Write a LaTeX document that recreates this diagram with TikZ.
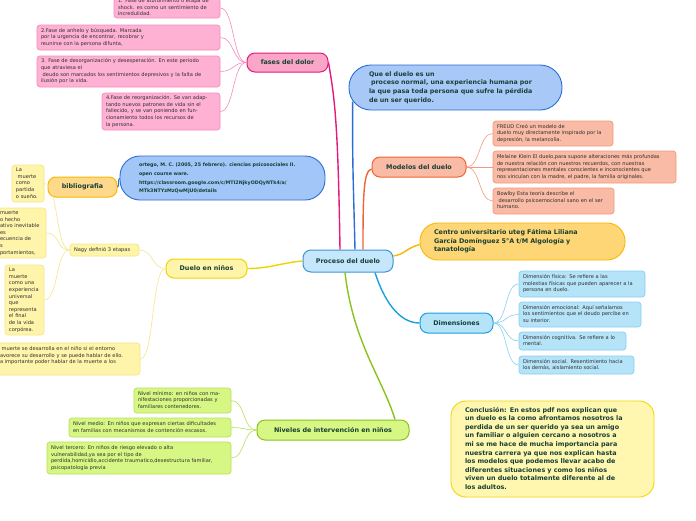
\documentclass[tikz,border=0pt]{standalone}
\usepackage{fontspec}
\setmainfont{DejaVu Sans}
\newcommand\tbl[1]{\begin{tabular}{@{}l@{}}#1\end{tabular}}
\definecolor{txtc}{HTML}{2E2E2E}
\definecolor{maintxt}{HTML}{173F35}
\definecolor{pinkf}{HTML}{FFB1D4}
\definecolor{pinkd}{HTML}{F38CC0}
\definecolor{pinkmf}{HTML}{F9A6C9}
\definecolor{pinkmd}{HTML}{E5197D}
\definecolor{quef}{HTML}{A8C9F8}
\definecolor{qued}{HTML}{2A6DD4}
\definecolor{salf}{HTML}{F9BBA5}
\definecolor{sald}{HTML}{F39A7A}
\definecolor{salmd}{HTML}{EE6536}
\definecolor{cenf}{HTML}{FFD676}
\definecolor{cend}{HTML}{F8B700}
\definecolor{dimf}{HTML}{B5E4F9}
\definecolor{dimd}{HTML}{87D0F2}
\definecolor{dimmd}{HTML}{1A9FE0}
\definecolor{cf}{HTML}{C6E7FB}
\definecolor{cd}{HTML}{3A96D6}
\definecolor{conf}{HTML}{FFF7B0}
\definecolor{cond}{HTML}{F2D700}
\definecolor{grf}{HTML}{D7F784}
\definecolor{grd}{HTML}{B8E05A}
\definecolor{grmd}{HTML}{8CC21E}
\definecolor{yef}{HTML}{FFF5AA}
\definecolor{yed}{HTML}{F6E68A}
\definecolor{yemd}{HTML}{F0D400}
\definecolor{bibf}{HTML}{FFD98B}
\definecolor{bibd}{HTML}{F7B900}
\definecolor{ortf}{HTML}{A2C6F8}
\definecolor{ortd}{HTML}{2D6ED6}
\tikzset{
  cbox/.style={draw, rounded corners=3pt, line width=0.7pt, inner xsep=4pt, inner ysep=0pt,
    align=left, font=\fontsize{5.1}{6.6}\selectfont, text=txtc},
  bigbox/.style={draw, line width=0.9pt, inner ysep=0pt, align=left, text=maintxt},
  mnode/.style={draw, line width=1pt, rounded corners=8pt, inner sep=0pt, align=center,
    font=\bfseries\fontsize{6.4}{8}\selectfont, text=maintxt},
  pinkbox/.style={cbox, fill=pinkf, draw=pinkd},
  salbox/.style={cbox, fill=salf, draw=sald},
  dimbox/.style={cbox, fill=dimf, draw=dimd},
  grbox/.style={cbox, fill=grf, draw=grd},
  yebox/.style={cbox, fill=yef, draw=yed},
  thin/.style={line width=0.6pt},
  thick/.style={line width=1.4pt},
}
\begin{document}
\begin{tikzpicture}[x=1pt,y=-1pt]
\useasboundingbox (0,0) rectangle (696,520);
\clip (0,0) rectangle (696,520);
\fill[white] (0,0) rectangle (696,520);

% central
\node[mnode, fill=cf, draw=cd, minimum width=90pt, minimum height=22pt] (c) at (348,261) {Proceso del duelo};

% fases del dolor
\node[mnode, fill=pinkmf, draw=pinkmd, minimum width=81pt, minimum height=19pt] (fases) at (287.5,62.5) {fases del dolor};
\node[pinkbox, minimum width=106pt, minimum height=20pt, text width=98pt] (p1) at (167,8) {\tbl{1. Fase de aturdimiento o etapa de\\shock. es como un sentimiento de\\incredulidad.}};
\node[pinkbox, minimum width=183pt, minimum height=25pt, text width=175pt] (p2) at (128.5,37.5) {\tbl{2.Fase de anhelo y búsqueda. Marcada\\por la urgencia de encontrar, recobrar y\\reunirse con la persona difunta,}};
\node[pinkbox, minimum width=183pt, minimum height=31pt, text width=175pt] (p3) at (128.5,71.5) {\tbl{3. Fase de desorganización y desesperación. En este periodo\\que atraviesa el\\\ deudo son marcados los sentimientos depresivos y la falta de\\ilusión por la vida.}};
\node[pinkbox, minimum width=118pt, minimum height=37pt, text width=110pt] (p4) at (161,111.5) {\tbl{4.Fase de reorganización. Se van adap-\\tando nuevos patrones de vida sin el\\fallecido, y se van poniendo en fun-\\cionamiento todos los recursos de\\la persona.}};

% que el duelo
\node[bigbox, fill=quef, draw=qued, rounded corners=22pt, minimum width=213pt, minimum height=45pt, inner xsep=20pt, text width=173pt, font=\bfseries\fontsize{6.3}{8.8}\selectfont] (que) at (455.5,87.5) {\tbl{Que el duelo es un\\\ proceso normal, una experiencia humana por\\la que pasa toda persona que sufre la pérdida\\de un ser querido.}};

% modelos
\node[mnode, fill=salf, draw=salmd, minimum width=94pt, minimum height=20pt] (mod) at (419,167) {Modelos del duelo};
\node[salbox, minimum width=120pt, minimum height=25pt, text width=112pt] (fr) at (553,133.5) {\tbl{FREUD Creó un modelo de\\duelo muy directamente inspirado por la\\depresión, la melancolía.}};
\node[salbox, minimum width=183pt, minimum height=32pt, text width=175pt] (kl) at (584.5,167) {\tbl{Melaine Klein El duelo,para supone alteraciones más profundas\\de nuestra relación con nuestros recuerdos, con nuestras\\representaciones mentales conscientes e inconscientes que\\nos vinculan con la madre, el padre, la familia originales.}};
\node[salbox, minimum width=121pt, minimum height=26pt, text width=113pt] (bw) at (553.5,201) {\tbl{Bowlby Esta teoría describe el\\\ desarrollo psicoemocional sano en el ser\\humano.}};

% centro
\node[bigbox, fill=cenf, draw=cend, rounded corners=18pt, minimum width=205pt, minimum height=37pt, inner xsep=14pt, text width=177pt, font=\bfseries\fontsize{6.4}{8.5}\selectfont] (centro) at (522.5,241.5) {\tbl{Centro universitario uteg Fátima Liliana\\García Domínguez 5°A t/M Algología y\\tanatología}};

% dimensiones
\node[mnode, fill=dimf, draw=dimmd, minimum width=73pt, minimum height=20pt] (dim) at (456.5,323) {Dimensiones};
\node[dimbox, minimum width=126pt, minimum height=26pt, text width=118pt] (d1) at (582,284) {\tbl{Dimensión física: Se refiere a las\\molestias físicas que pueden aparecer a la\\persona en duelo.}};
\node[dimbox, minimum width=122pt, minimum height=25pt, text width=114pt] (d2) at (580,314.5) {\tbl{Dimensión emocional: Aquí señalamos\\los sentimientos que el deudo percibe en\\su interior.}};
\node[dimbox, minimum width=107pt, minimum height=18pt, text width=99pt] (d3) at (572.5,341) {\tbl{Dimensión cognitiva. Se refiere a lo\\mental.}};
\node[dimbox, minimum width=115pt, minimum height=18pt, text width=107pt] (d4) at (576.5,365) {\tbl{Dimensión social. Resentimiento hacia\\los demás, aislamiento social.}};

% conclusion
\node[bigbox, fill=conf, draw=cond, rounded corners=15pt, minimum width=203pt, minimum height=96pt, inner xsep=14pt, text width=175pt, font=\bfseries\fontsize{6.4}{8.6}\selectfont] (concl) at (552.5,449) {\tbl{Conclusión: En estos pdf nos explican que\\un duelo es la como afrontamos nosotros la\\perdida de un ser querido ya sea un amigo\\un familiar o alguien cercano a nosotros a\\mi se me hace de mucha importancia para\\nuestra carrera ya que nos explican hasta\\los modelos que podemos llevar acabo de\\diferentes situaciones y como los niños\\viven un duelo totalmente diferente al de\\los adultos.}};

% niveles
\node[mnode, fill=grf, draw=grmd, minimum width=152pt, minimum height=20pt] (niv) at (333,430) {Niveles de intervención en niños};
\node[grbox, minimum width=97pt, minimum height=25pt, text width=89pt] (n1) at (182.5,400.5) {\tbl{Nivel mínimo: en niños con ma-\\nifestaciones proporcionadas y\\familiares contenedores.}};
\node[grbox, minimum width=162pt, minimum height=19pt, text width=154pt] (n2) at (150,427.5) {\tbl{Nivel medio: En niños que expresan ciertas dificultades\\en familias con mecanismos de contención escasos.}};
\node[grbox, minimum width=184pt, minimum height=32pt, text width=176pt] (n3) at (139,458) {\tbl{Nivel tercero: En niños de riesgo elevado o alta\\vulnerabilidad,ya sea por el tipo de\\perdida,homicidio,accidente traumatico,desestructura familiar,\\psicopatología previa}};

% duelo en ninos
\node[mnode, fill=yef, draw=yemd, minimum width=81pt, minimum height=19pt] (dn) at (206.5,268.5) {Duelo en niños};
\node[yebox, minimum width=69pt, minimum height=12pt, text width=61pt] (nagy) at (104.5,250) {\tbl{Nagy definió 3 etapas}};
\node[yebox, minimum width=144pt, minimum height=32pt, text width=136pt] (bb) at (68,359) {\tbl{\ muerte se desarrolla en el niño si el entorno\\avorece su desarrollo y se puede hablar de ello.\\a importante poder hablar de la muerte a los\\\mbox{}}};
\node[yebox, minimum width=32pt, minimum height=37pt, text width=24pt] (na) at (28,183.5) {\tbl{La\\\ muerte\\como\\partida\\o sueño.}};
\node[yebox, minimum width=50pt, minimum height=50pt, text width=42pt] (nb) at (21,233) {\tbl{muerte\\o hecho\\ativo inevitable\\es\\ecuencia de\\s\\portamientos,}};
\node[yebox, minimum width=39pt, minimum height=70pt, text width=31pt] (nc) at (24.5,300) {\tbl{La\\muerte\\como una\\experiencia\\universal\\que\\representa\\el final\\de la vida\\corpórea.}};

% bibliografia
\node[mnode, fill=bibf, draw=bibd, minimum width=69pt, minimum height=20pt] (bib) at (82.5,187) {bibliografia};
\node[bigbox, fill=ortf, draw=ortd, rounded corners=20pt, minimum width=205pt, minimum height=44pt, inner xsep=19pt, text width=167pt, font=\bfseries\fontsize{4.8}{8.8}\selectfont] (ort) at (222.5,178) {\tbl{ortego, M. C. (2005, 25 febrero). ciencias psicosociales II.\\open course ware.\\https://classroom.google.com/c/MTI2NjkyODQyNTk4/a/\\MTk3NTYzMzQwMjU0/details}};

% main connectors
\draw[thick, pinkmd] ([xshift=-8pt]c.north) .. controls +(-2,-130) and +(6,35) .. (fases.east);
\draw[thick, qued] ([xshift=7pt]c.north) .. controls +(-2,-80) and +(0,70) .. ([xshift=4pt,yshift=-14pt]que.west);
\draw[thick, salmd] ([xshift=15pt]c.north) .. controls +(0,-55) and +(-8,2) .. ([yshift=-2pt]mod.west);
\draw[thick, cend] ([yshift=5pt]c.east) .. controls +(12,-2) and +(-14,4) .. ([yshift=-3pt]centro.west);
\draw[thick, dimmd] ([xshift=27pt]c.south) .. controls +(8,25) and +(-22,0) .. (dim.west);
\draw[thick, grmd] ([xshift=-3pt]c.south) .. controls +(8,70) and +(-12,-40) .. ([xshift=62pt]niv.north);
\draw[thick, yemd] (c.west) .. controls +(-22,2) and +(22,0) .. (dn.east);
\draw[line width=1pt, ortd] (bib.east) .. controls +(2,0) and +(-2,2) .. (ort.west);

% child connectors
\foreach \n in {p1,p2,p3,p4}
  \draw[thin, pinkd] (fases.west) .. controls +(-14,0) and +(14,0) .. (\n.east);
\foreach \n in {fr,kl,bw}
  \draw[thin, sald] (mod.east) .. controls +(14,0) and +(-14,0) .. (\n.west);
\foreach \n in {d1,d2,d3,d4}
  \draw[thin, dimd] (dim.east) .. controls +(14,0) and +(-14,0) .. (\n.west);
\foreach \n in {n1,n2,n3}
  \draw[thin, grd] (niv.west) .. controls +(-14,0) and +(14,0) .. (\n.east);
\foreach \n in {nagy,bb}
  \draw[thin, yed] (dn.west) .. controls +(-14,0) and +(14,0) .. (\n.east);
\foreach \n in {na,nb,nc}
  \draw[thin, yed] (nagy.west) .. controls +(-14,0) and +(14,0) .. (\n.east);
\end{tikzpicture}
\end{document}
